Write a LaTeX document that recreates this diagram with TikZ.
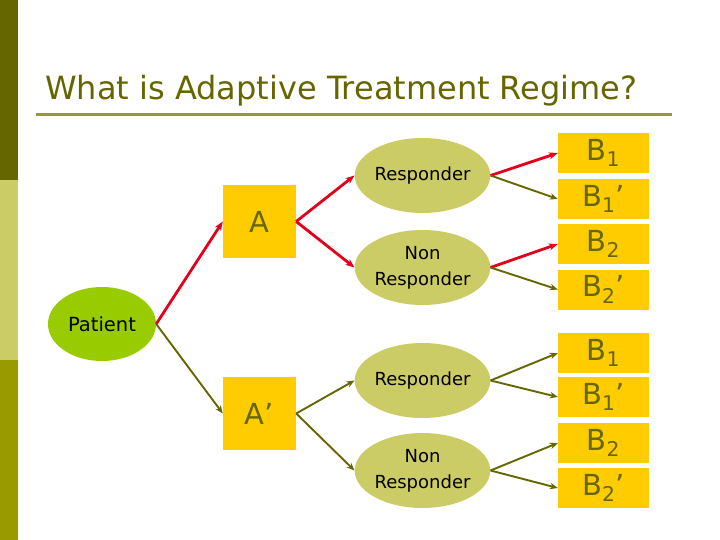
\documentclass[tikz,border=0pt]{standalone}
\usepackage{fontspec}
\setmainfont{DejaVu Sans}
\usetikzlibrary{shapes.geometric,arrows.meta}

\definecolor{darkolive}{HTML}{666600}
\definecolor{paleolive}{HTML}{CCCC66}
\definecolor{midolive}{HTML}{999900}
\definecolor{rulecol}{HTML}{999933}
\definecolor{boxyellow}{HTML}{FFCC00}
\definecolor{patientgreen}{HTML}{99CC00}
\definecolor{arrowred}{HTML}{E2001A}

\tikzset{
	treat/.style={rectangle,fill=boxyellow,text=darkolive,minimum width=73pt,minimum height=73pt,inner sep=0pt,font=\fontsize{29}{32}\selectfont},
	second/.style={rectangle,fill=boxyellow,text=darkolive,minimum width=91pt,minimum height=40pt,inner sep=0pt,font=\fontsize{29}{32}\selectfont},
	resp/.style={ellipse,fill=paleolive,minimum width=125pt,minimum height=75pt,inner sep=0pt,align=center,font=\fontsize{18}{26}\selectfont},
	redarr/.style={draw=arrowred,line width=2.8pt,-{Stealth[length=9pt,width=7pt]}},
	olivearr/.style={draw=darkolive,line width=1.9pt,-{Stealth[length=8pt,width=6.5pt]}}
}

\begin{document}
\begin{tikzpicture}[x=1pt,y=-1pt]
		\useasboundingbox (0,0) rectangle (720,540);
		% 左侧色条
		\fill[darkolive] (0,0) rectangle (18,180);
		\fill[paleolive] (0,180) rectangle (18,360);
		\fill[midolive] (0,360) rectangle (18,540);
		% 标题
		\node[anchor=base west,inner sep=0pt,text=darkolive,font=\fontsize{32}{38}\selectfont] (title) at (45,100) {What is Adaptive Treatment Regime?};
		\draw[rulecol,line width=3pt] (36,115) -- (672,115);
		% 病人与第一阶段治疗
		\node[ellipse,fill=patientgreen,minimum width=108pt,minimum height=74pt,inner sep=0pt,font=\fontsize{19.5}{24}\selectfont] (patient) at (102,324) {Patient};
		\node[treat] (A) at (259.5,221.5) {A};
		\node[treat] (Ap) at (259.5,413.5) {A’};
		% 应答情况
		\node[resp] (resp1) at (422.5,175.5) {Responder};
		\node[resp] (non1) at (422.5,267.5) {Non\\Responder};
		\node[resp] (resp2) at (422.5,380.5) {Responder};
		\node[resp] (non2) at (422.5,470.5) {Non\\Responder};
		% 第二阶段治疗
		\node[second] (b1) at (603.5,153) {B\textsubscript{1}};
		\node[second] (b1p) at (603.5,199) {B\textsubscript{1}’};
		\node[second] (b2) at (603.5,244) {B\textsubscript{2}};
		\node[second] (b2p) at (603.5,289.5) {B\textsubscript{2}’};
		\node[second] (b3) at (603.5,353) {B\textsubscript{1}};
		\node[second] (b3p) at (603.5,397) {B\textsubscript{1}’};
		\node[second] (b4) at (603.5,443) {B\textsubscript{2}};
		\node[second] (b4p) at (603.5,488) {B\textsubscript{2}’};
		% 箭头
		\draw[redarr] (patient.east) -- (A.west);
		\draw[olivearr] (patient.east) -- (Ap.west);
		\draw[redarr] (A.east) -- (resp1.west);
		\draw[redarr] (A.east) -- (non1.west);
		\draw[olivearr] (Ap.east) -- (resp2.west);
		\draw[olivearr] (Ap.east) -- (non2.west);
		\draw[redarr] (resp1.east) -- (b1.west);
		\draw[olivearr] (resp1.east) -- (b1p.west);
		\draw[redarr] (non1.east) -- (b2.west);
		\draw[olivearr] (non1.east) -- (b2p.west);
		\draw[olivearr] (resp2.east) -- (b3.west);
		\draw[olivearr] (resp2.east) -- (b3p.west);
		\draw[olivearr] (non2.east) -- (b4.west);
		\draw[olivearr] (non2.east) -- (b4p.west);
\end{tikzpicture}
\end{document}
